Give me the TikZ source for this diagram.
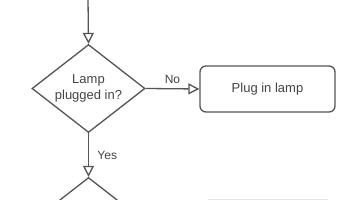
\documentclass[tikz,border=0pt]{standalone}
\usepackage{fontspec}
\setmainfont{Liberation Sans}
\usetikzlibrary{arrows.meta,shapes.geometric}
\definecolor{edge}{HTML}{555555}
\definecolor{txt}{HTML}{444444}
\begin{document}
\begin{tikzpicture}[x=1pt,y=-1pt,
  decision/.style={shape=diamond, draw=edge, line width=1.3pt, inner sep=0pt, aspect=1.28,
    minimum width=113pt, minimum height=88pt, align=center, text=txt,
    font=\fontsize{13}{16}\selectfont},
  process/.style={draw=edge, line width=1.3pt, rounded corners=6pt, minimum width=135pt,
    minimum height=46pt, text=txt, font=\fontsize{13}{16}\selectfont},
  flow/.style={draw=edge, line width=1.3pt, -{Triangle[open, length=11pt, width=11pt]}},
  lbl/.style={text=txt, font=\fontsize{12}{14}\selectfont}]
\useasboundingbox (0,0) rectangle (350,200);
\fill[white] (0,0) rectangle (350,200);
\coordinate (start) at (88,-2);
\node[decision] (d1) at (88.5,88.5) {Lamp\\plugged in?};
\node[process] (p1) at (267.5,89) {Plug in lamp};
\node[decision] (d2) at (88.5,221.5) {};
\node[draw=black!10, line width=0.8pt, rounded corners=6pt, minimum width=128pt, minimum height=46pt] (p2) at (268,222.5) {};
\draw[flow] (start) -- (d1.north);
\draw[flow] (d1.east) -- (p1.west) node[lbl, pos=0.5, above=1pt] {No};
\draw[flow] (d1.south) -- (d2.north) node[lbl, pos=0.5, right=5pt] {Yes};
\end{tikzpicture}
\end{document}
